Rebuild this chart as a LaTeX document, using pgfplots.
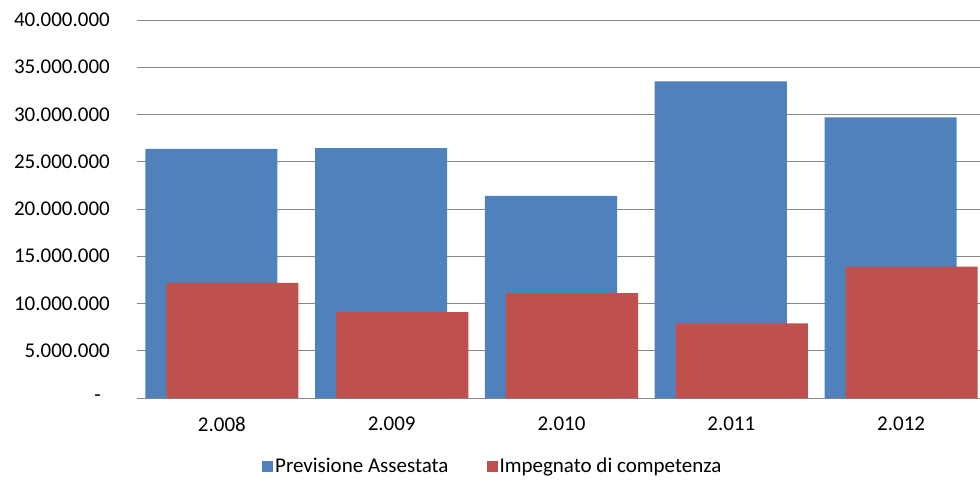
\documentclass[border=0pt]{standalone}
\usepackage{pgfplots}
\pgfplotsset{compat=1.18}
\usepackage{fontspec}
\setmainfont{Carlito}
\definecolor{prevblue}{RGB}{79,129,189}
\definecolor{impred}{RGB}{192,80,77}
\definecolor{gridgray}{RGB}{134,134,134}
\pgfplotsset{sqlegend/.style={legend image code/.code={\fill[##1] (0pt,-5.5pt) rectangle (11pt,5.5pt);}}}

\begin{document}
\fontsize{21}{25}\selectfont
\begin{tikzpicture}
\begin{axis}[
  at={(0pt,0pt)}, anchor=south west,
  scale only axis,
  width=849pt, height=378pt,
  xmin=-0.5, xmax=4.5,
  ymin=0, ymax=40000000,
  axis line style={draw=none},
  major tick length=0pt,
  ymajorgrids,
  grid style={gridgray, line width=1pt},
  xtick={0,1,2,3,4},
  xticklabels={2.008,2.009,2.010,2.011,2.012},
  ytick={0,5000000,10000000,15000000,20000000,25000000,30000000,35000000,40000000},
  yticklabels={-\hspace*{9pt},5.000.000,10.000.000,15.000.000,20.000.000,25.000.000,30.000.000,35.000.000,40.000.000},
  scaled y ticks=false,
  ticklabel style={font=\fontsize{21}{25}\selectfont},
  yticklabel style={xshift=-20pt},
  xticklabel style={yshift=-12pt},
  ybar,
  bar width=0.778,
  legend columns=2,
  legend style={at={(0.419,-0.1825)}, anchor=center, draw=none, fill=none,
    font=\fontsize{21}{25}\selectfont,
    /tikz/every even column/.append style={column sep=36pt}},
]
% Previsione Assestata
\addplot[fill=prevblue, draw=none, bar shift=-0.062, sqlegend]
  coordinates {(0,26350000) (1,26450000) (2,21400000) (3,33500000) (4,29700000)};
% Impegnato di competenza
\addplot[fill=impred, draw=none, bar shift=0.062, sqlegend]
  coordinates {(0,12170000) (1,9100000) (2,11100000) (3,7900000) (4,13900000)};
\legend{Previsione Assestata, Impegnato di competenza}
\end{axis}
\pgfresetboundingbox
\path[use as bounding box] (-137pt,-87pt) rectangle (843pt,398pt);
\end{tikzpicture}
\end{document}
